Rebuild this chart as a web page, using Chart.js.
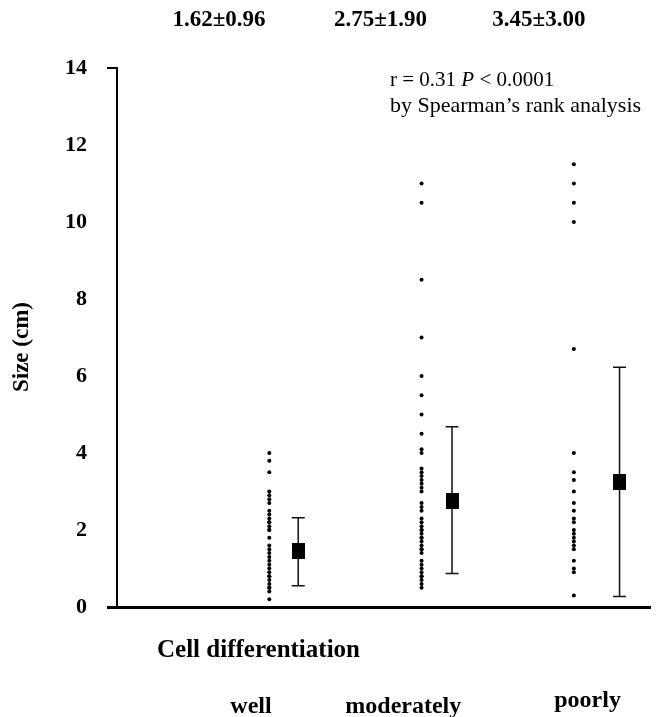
<!DOCTYPE html>
<html>
<head>
<meta charset="utf-8">
<script src="https://cdn.jsdelivr.net/npm/chart.js@4"></script>
<style>
  html, body { margin: 0; padding: 0; background: #fff; }
  canvas { display: block; }
</style>
</head>
<body>
<canvas id="chart-size" width="666" height="717"></canvas>
<script>
const GROUPS = ['well', 'moderately', 'poorly'];
const SUMMARY_LABELS = ['1.62±0.96', '2.75±1.90', '3.45±3.00'];

// tamaños individuales (cm) por grupo
const WELL_SIZES = [4.0, 3.8, 3.5, 3.0, 2.9, 2.8, 2.7, 2.5, 2.4, 2.3, 2.2, 2.2, 2.1, 2.0, 2.0,
    1.8, 1.6, 1.5, 1.4, 1.3, 1.2, 1.1, 1.0, 0.9, 0.8, 0.8, 0.7, 0.6, 0.5, 0.5, 0.4, 0.2];
const MODERATE_SIZES = [11.0, 10.5, 8.5, 7.0, 6.0, 5.5, 5.0, 4.5, 4.1, 4.0, 3.6, 3.5, 3.4, 3.3,
    3.2, 3.1, 3.0, 2.7, 2.6, 2.5, 2.3, 2.2, 2.1, 2.0, 2.0, 1.9, 1.8, 1.8, 1.7, 1.6, 1.5, 1.5,
    1.4, 1.2, 1.1, 1.0, 0.9, 0.8, 0.8, 0.7, 0.6, 0.5];
const POORLY_SIZES = [11.5, 11.0, 10.5, 10.0, 6.7, 4.0, 3.5, 3.3, 3.0, 2.7, 2.5, 2.3, 2.2,
    2.0, 1.9, 1.8, 1.7, 1.6, 1.5, 1.2, 1.0, 0.9, 0.3];

// media y barras de error
const MEANS = [1.45, 2.76, 3.24];
const ERR_UPPER = [2.32, 4.68, 6.23];
const ERR_LOWER = [0.55, 0.87, 0.27];

const Y_MIN = 0;
const Y_MAX = 14;
const Y_STEP = 2;

// posiciones en unidades del eje x (categorias en 1, 2, 3)
const GROUP_X = [1, 2, 3];
const MEAN_X = [1.19, 2.2, 3.3];
const SUMMARY_X = [0.67, 1.73, 2.77];
const GROUP_LABEL_X = [0.88, 1.88, 3.09];

const SERIF = "'Liberation Serif', 'Times New Roman', serif";

// marcador rectangular para la media
const meanMarker = document.createElement('canvas');
meanMarker.width = 13;
meanMarker.height = 16;
meanMarker.getContext('2d').fillRect(0, 0, 13, 16);

const allSizes = [WELL_SIZES, MODERATE_SIZES, POORLY_SIZES];
const dotPoints = allSizes.flatMap((arr, i) => arr.map(v => ({ x: GROUP_X[i], y: v })));
const meanPoints = MEANS.map((m, i) => ({ x: MEAN_X[i], y: m }));

// barras de error
const errorBars = {
    id: 'errorBars',
    beforeDatasetsDraw(chart) {
        const { ctx, scales: { x, y } } = chart;
        ctx.save();
        ctx.strokeStyle = '#111';
        ctx.lineWidth = 1.5;
        MEANS.forEach((m, i) => {
            const px = x.getPixelForValue(MEAN_X[i]);
            const top = y.getPixelForValue(ERR_UPPER[i]);
            const bot = y.getPixelForValue(ERR_LOWER[i]);
            ctx.beginPath();
            ctx.moveTo(px, top); ctx.lineTo(px, bot);
            ctx.moveTo(px - 6.5, top); ctx.lineTo(px + 6.5, top);
            ctx.moveTo(px - 6.5, bot); ctx.lineTo(px + 6.5, bot);
            ctx.stroke();
        });
        ctx.restore();
    }
};

// textos fuera del area del grafico
const textos = {
    id: 'textos',
    afterDraw(chart) {
        const { ctx, scales: { x } } = chart;
        ctx.save();
        ctx.fillStyle = '#000';
        ctx.textBaseline = 'alphabetic';

        ctx.font = `bold 23px ${SERIF}`;
        ctx.textAlign = 'center';
        SUMMARY_LABELS.forEach((t, i) => ctx.fillText(t, x.getPixelForValue(SUMMARY_X[i]), 26));

        // anotacion de correlacion
        ctx.textAlign = 'left';
        let cx = 390;
        const parts = [['r = 0.31 ', ''], ['P', 'italic '], [' < 0.0001', '']];
        parts.forEach(([t, st]) => {
            ctx.font = `${st}21px ${SERIF}`;
            ctx.fillText(t, cx, 86);
            cx += ctx.measureText(t).width;
        });
        ctx.font = `22px ${SERIF}`;
        ctx.fillText('by Spearman\u2019s rank analysis', 390, 112);

        // titulo eje y
        ctx.save();
        ctx.translate(22, 347);
        ctx.rotate(-Math.PI / 2);
        ctx.textAlign = 'center';
        ctx.textBaseline = 'middle';
        ctx.font = `bold 23px ${SERIF}`;
        ctx.fillText('Size (cm)', 0, 0);
        ctx.restore();

        ctx.font = `bold 25px ${SERIF}`;
        ctx.textAlign = 'left';
        ctx.fillText('Cell differentiation', 157, 657);

        ctx.font = `bold 24px ${SERIF}`;
        ctx.textAlign = 'center';
        const baselines = [713, 713, 707];
        GROUPS.forEach((g, i) => ctx.fillText(g, x.getPixelForValue(GROUP_LABEL_X[i]), baselines[i]));
        ctx.restore();
    }
};

const ctx = document.getElementById('chart-size').getContext('2d');
const chartSize = new Chart(ctx, {
    type: 'scatter',
    data: {
        datasets: [
            {
                label: 'Size',
                data: dotPoints,
                backgroundColor: '#000',
                borderWidth: 0,
                pointRadius: 2,
            },
            {
                label: 'Mean',
                data: meanPoints,
                pointStyle: meanMarker,
            }
        ]
    },
    options: {
        responsive: false,
        devicePixelRatio: 1,
        animation: false,
        layout: { padding: { top: 68, right: 16, bottom: 0, left: 0 } },
        plugins: {
            legend: { display: false },
            tooltip: { enabled: false }
        },
        scales: {
            x: {
                type: 'linear',
                min: 0,
                max: 3.5,
                ticks: { display: false },
                grid: { display: false },
                border: { display: true, color: '#000', width: 3 },
                afterFit: (s) => { s.height = 110; }
            },
            y: {
                min: Y_MIN,
                max: Y_MAX,
                ticks: {
                    stepSize: Y_STEP,
                    padding: 20,
                    color: '#000',
                    font: { family: SERIF, size: 22, weight: 'bold' }
                },
                grid: {
                    drawOnChartArea: false,
                    tickLength: 10,
                    color: (c) => (c.tick && (c.tick.value === Y_MAX || c.tick.value === Y_MIN)) ? '#000' : 'rgba(0,0,0,0)',
                    lineWidth: (c) => (c.tick && c.tick.value === Y_MIN) ? 3 : 2
                },
                border: { display: true, color: '#000', width: 2 },
                afterFit: (s) => { s.width = 117; }
            }
        }
    },
    plugins: [errorBars, textos]
});
</script>
</body>
</html>
